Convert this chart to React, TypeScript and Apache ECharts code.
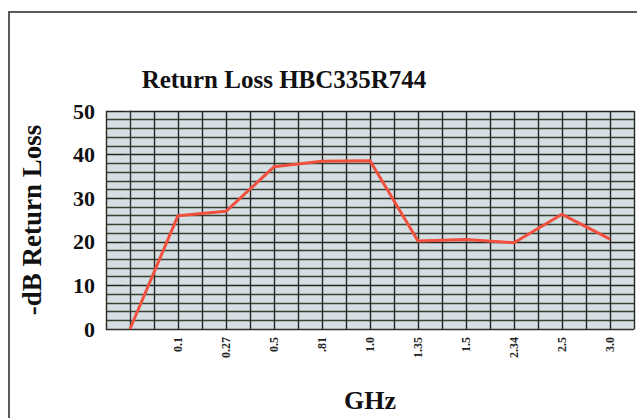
import React, { useEffect, useRef } from "react";
import * as echarts from "echarts";

const categories = ["", "0.1", "0.27", "0.5", ".81", "1.0", "1.35", "1.5", "2.34", "2.5", "3.0"];
const returnLoss = [0, 26, 27, 37.2, 38.5, 38.6, 20.2, 20.5, 19.8, 26.3, 20.6];
const yTicks = [0, 10, 20, 30, 40, 50];

const SERIF = "'Liberation Serif', 'DejaVu Serif', serif";

export default function App() {
  const ref = useRef<HTMLDivElement>(null);
  useEffect(() => {
    if (!ref.current) return;
    const chart = echarts.init(ref.current, undefined, { renderer: "svg" });
    const data = returnLoss.map((v, i) => [i, v]);
    chart.setOption({
      animation: false,
      backgroundColor: "#ffffff",
      graphic: [
        {
          type: "rect",
          shape: { x: 9, y: 12, width: 640, height: 420 },
          style: { fill: "none", stroke: "#5a5a5a", lineWidth: 2 },
          silent: true,
        },
        {
          type: "text",
          x: 284,
          y: 79,
          style: {
            text: "Return Loss HBC335R744",
            font: `bold 25px ${SERIF}`,
            fill: "#111",
            textAlign: "center",
            textVerticalAlign: "middle",
          },
        },
      ],
      grid: {
        left: 106,
        top: 111,
        width: 528,
        height: 238,
        show: true,
        backgroundColor: "#d5dee3",
        borderWidth: 0,
      },
      xAxis: {
        type: "value",
        min: -0.5,
        max: 10.5,
        interval: 0.5,
        name: "GHz",
        nameLocation: "middle",
        nameGap: 58,
        nameTextStyle: { fontFamily: SERIF, fontWeight: "bold", fontSize: 26, color: "#111" },
        axisLine: { show: true, lineStyle: { color: "#333", width: 1 } },
        axisTick: { show: false },
        splitLine: { show: true, lineStyle: { color: "#25271f", width: 1.4 } },
        axisLabel: {
          rotate: 90,
          margin: 8,
          fontFamily: SERIF,
          fontWeight: "bold",
          fontSize: 12,
          color: "#222",
          formatter: (v: number) => {
            const i = Math.round(v);
            if (Math.abs(v - i) > 1e-6) return "";
            return categories[i] ?? "";
          },
        },
      },
      yAxis: {
        type: "value",
        min: yTicks[0],
        max: yTicks[yTicks.length - 1],
        interval: 10,
        name: "-dB Return Loss",
        nameLocation: "middle",
        nameRotate: 90,
        nameGap: 61,
        nameTextStyle: { fontFamily: SERIF, fontWeight: "bold", fontSize: 27, color: "#111" },
        axisLine: { show: true, lineStyle: { color: "#333", width: 1 } },
        axisTick: { show: true, length: 6, lineStyle: { color: "#333" } },
        axisLabel: {
          margin: 11,
          fontFamily: SERIF,
          fontWeight: "bold",
          fontSize: 22,
          color: "#111",
        },
        splitLine: { show: true, lineStyle: { color: "#25271f", width: 1.4 } },
        minorTick: { show: false, splitNumber: 5 },
        minorSplitLine: { show: true, lineStyle: { color: "#3b4131", width: 1.3 } },
      },
      series: [
        {
          type: "line",
          data,
          symbol: "none",
          lineStyle: { color: "#f2503f", width: 3 },
          z: 5,
        },
      ],
    });
    return () => chart.dispose();
  }, []);
  return (
    <div
      ref={ref}
      style={{ position: "fixed", left: 0, top: 0, width: 637, height: 418 }}
    />
  );
}
